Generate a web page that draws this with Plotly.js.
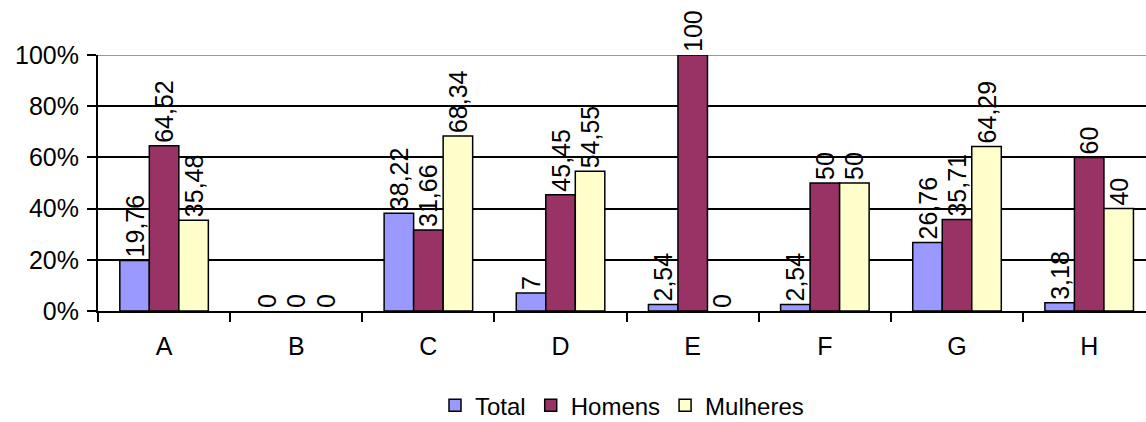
<!DOCTYPE html>
<html>
<head>
<meta charset="utf-8">
<script src="https://cdn.plot.ly/plotly-3.0.1.min.js"></script>
<style>html,body{margin:0;padding:0;background:#fff;}#chart{width:1146px;height:422px;}</style>
</head>
<body>
<div id="chart"></div>
<script>
const categories = ['A','B','C','D','E','F','G','H'];
const total    = [19.76, 0, 38.22, 7, 2.54, 2.54, 26.76, 3.18];
const homens   = [64.52, 0, 31.66, 45.45, 100, 50, 35.71, 60];
const mulheres = [35.48, 0, 68.34, 54.55, 0, 50, 64.29, 40];
const seriesNames = ['Total','Homens','Mulheres'];
const yTickVals = [0, 20, 40, 60, 80, 100];
const yTickText = ['0%','20%','40%','60%','80%','100%'];

function fmt(v){ return String(v).replace('.', ','); }
const colors = ['#9999FF','#993366','#FFFFCC'];
const font = {family:'Liberation Sans, Arial, sans-serif', size:25, color:'#000'};

const data = [total, homens, mulheres].map((vals, i) => ({
  type:'bar', x:categories, y:vals, name:seriesNames[i],
  marker:{color:colors[i], line:{color:'#000', width:vals.map(v => v === 0 ? 0 : 1.5)}},
  text: vals.map(fmt), textposition:'outside', textangle:-90,
  textfont:font, cliponaxis:false, constraintext:'none',
  hoverinfo:'none'
}));

const layout = {
  width:1146, height:422,
  margin:{l:98, r:0, t:55, b:111, autoexpand:false},
  paper_bgcolor:'#fff', plot_bgcolor:'#fff',
  font:font,
  barmode:'group', bargap:0.33, bargroupgap:0,
  showlegend:true,
  legend:{orientation:'h', x:0.5, xanchor:'center', y:-0.37, yanchor:'middle',
          font:{family:font.family, size:24, color:'#000'}, itemwidth:30, traceorder:'normal'},
  xaxis:{type:'category', range:[-0.5, 7.43], tickson:'boundaries', automargin:false,
         ticks:'outside', ticklen:9, tickcolor:'#000', tickwidth:2,
         showline:true, linecolor:'#000', linewidth:2, showgrid:false,
         ticklabelstandoff:12,
         tickfont:font, fixedrange:true},
  yaxis:{range:[0,100], tickmode:'array', tickvals:yTickVals, ticktext:yTickText, automargin:false,
         ticks:'outside', ticklen:9, tickcolor:'#000', tickwidth:2,
         showline:true, linecolor:'#000', linewidth:2,
         showgrid:true, gridcolor:'#000', gridwidth:2, zeroline:false,
         ticklabelstandoff:3,
         tickfont:font, fixedrange:true},
  shapes:[{type:'line', xref:'paper', yref:'y', x0:0, x1:1, y0:100, y1:100,
           line:{color:'#999', width:2}, layer:'below'}]
};
Plotly.newPlot('chart', data, layout, {displayModeBar:false, staticPlot:true});
</script>
</body>
</html>
